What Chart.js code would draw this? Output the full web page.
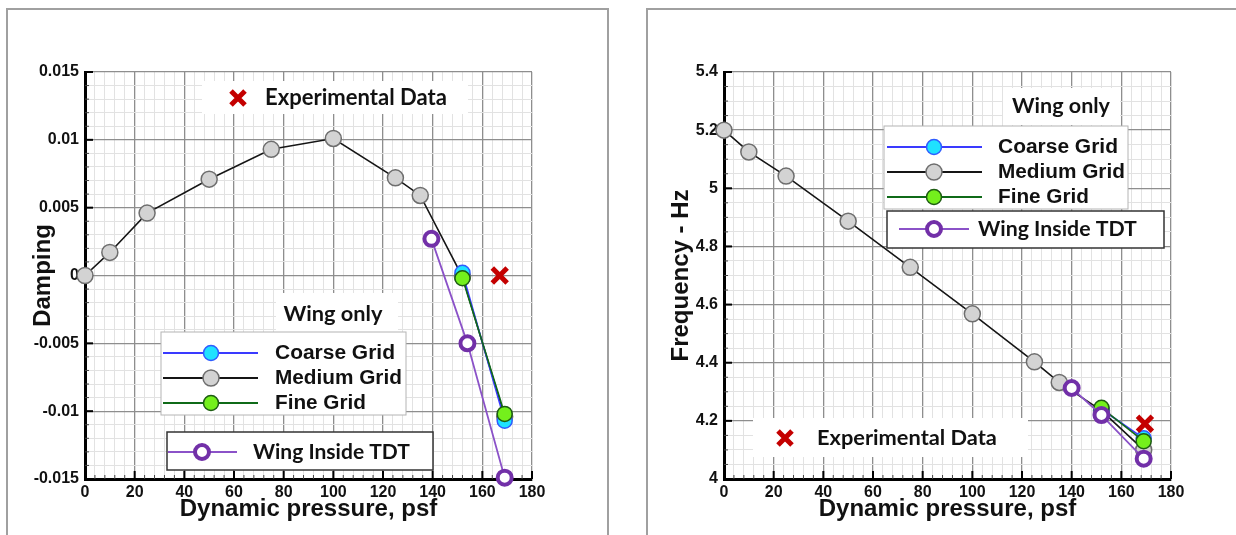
<!DOCTYPE html>
<html><head><meta charset="utf-8">
<script src="https://cdn.jsdelivr.net/npm/chart.js@4.4.1/dist/chart.umd.min.js"></script>
<style>
html,body{margin:0;padding:0;background:#fff;width:1236px;height:535px;overflow:hidden;}
.panel{position:absolute;border:2px solid #a0a0a0;box-sizing:border-box;}
canvas{position:absolute;top:0;}
</style></head><body>
<div class="panel" style="left:6px;top:8px;width:603px;height:620px"></div>
<div class="panel" style="left:646px;top:8px;width:700px;height:620px"></div>
<canvas id="c1" width="620" height="535" style="left:0px"></canvas>
<canvas id="c2" width="616" height="535" style="left:620px"></canvas>
<script>
// ---------- data ----------
const pressureMedium = [0, 10, 25, 50, 75, 100, 125, 135, 152, 169];
const dampingMedium  = [0, 0.0017, 0.0046, 0.0071, 0.0093, 0.0101, 0.0072, 0.0059, -0.0001, -0.0104];
const freqMedium     = [5.2, 5.125, 5.042, 4.887, 4.728, 4.568, 4.403, 4.332, 4.235, 4.10];

const pressureGrid   = [152, 169];
const dampingCoarse  = [0.0002, -0.0107];
const dampingFine    = [-0.0002, -0.0102];
const freqCoarse     = [4.24, 4.14];
const freqFine       = [4.245, 4.13];

const pressureTdtDamping = [139.5, 154, 169];
const dampingTdt         = [0.0027, -0.005, -0.0149];
const pressureTdtFreq    = [140, 152, 169];
const freqTdt            = [4.313, 4.22, 4.07];

const pressureExpDamping = [167];
const dampingExp         = [0];
const pressureExpFreq    = [169.5];
const freqExp            = [4.19];

const pressureTickValues = [0, 20, 40, 60, 80, 100, 120, 140, 160, 180];
const pressureTickLabels = ['0', '20', '40', '60', '80', '100', '120', '140', '160', '180'];
const dampingTickValues  = [-0.015, -0.01, -0.005, 0, 0.005, 0.01, 0.015];
const dampingTickLabels  = ['-0.015', '-0.01', '-0.005', '0', '0.005', '0.01', '0.015'];
const freqTickValues     = [4, 4.2, 4.4, 4.6, 4.8, 5, 5.2, 5.4];
const freqTickLabels     = ['4', '4.2', '4.4', '4.6', '4.8', '5', '5.2', '5.4'];

const seriesNames = ['Coarse Grid', 'Medium Grid', 'Fine Grid', 'Wing Inside TDT', 'Experimental Data'];
const groupLabel = 'Wing only';

// ---------- styles ----------
const ST = {
  coarse: {line: '#3a3aff', fill: '#1fe2ff', edge: '#2f5cff', r: 7.5},
  medium: {line: '#151515', fill: '#d3d3d3', edge: '#6e6e6e', r: 8},
  fine:   {line: '#0f6a18', fill: '#74f01c', edge: '#1d5c12', r: 7.5},
  tdt:    {line: '#8b52c8', fill: '#ffffff', edge: '#7230a8', r: 7},
  exp:    {edge: '#c40000'}
};
const TICK_FONT = {family: 'Liberation Sans', weight: 'bold', size: 16};
const TITLE_FONT = {family: 'Liberation Sans', weight: 'bold', size: 24};

const pts = (xs, ys) => xs.map((x, i) => ({x: x, y: ys[i]}));
function majorLabel(value, values, labels) {
  const i = values.findIndex(v => Math.abs(v - value) < 1e-7);
  return i >= 0 ? labels[i] : '';
}

function lineSet(label, data, st, order) {
  return {label, data, showLine: true, borderColor: st.line, borderWidth: 1.6,
    pointBackgroundColor: st.fill, pointBorderColor: st.edge, pointBorderWidth: 1.5,
    pointRadius: st.r, pointHoverRadius: st.r, order, clip: false};
}
function tdtSet(label, data) {
  return {label, data, showLine: true, borderColor: ST.tdt.line, borderWidth: 1.8,
    pointBackgroundColor: ST.tdt.fill, pointBorderColor: ST.tdt.edge, pointBorderWidth: 4,
    pointRadius: ST.tdt.r, pointHoverRadius: ST.tdt.r, order: 1, clip: false};
}
function expSet(label, data) {
  return {label, data, showLine: false, pointStyle: 'crossRot', pointRadius: 10.5,
    pointBorderWidth: 5, pointBorderColor: ST.exp.edge, pointBackgroundColor: ST.exp.edge,
    order: 0, clip: false};
}

function gridOpts(values, labels) {
  return {
    drawTicks: false,
    color: c => (c.tick && majorLabel(c.tick.value, values, labels) !== '') ? '#8e8e8e' : '#e2e2e2',
    lineWidth: c => (c.tick && majorLabel(c.tick.value, values, labels) !== '') ? 1.3 : 1
  };
}

function xScale() {
  return {
    type: 'linear', min: 0, max: 180,
    afterFit: s => { s.height = 56; },
    ticks: {stepSize: 4, autoSkip: false, maxRotation: 0, minRotation: 0, padding: 4, color: '#111', font: TICK_FONT,
      callback: v => majorLabel(v, pressureTickValues, pressureTickLabels)},
    grid: gridOpts(pressureTickValues, pressureTickLabels),
    border: {color: '#000', width: 3},
    title: {display: true, text: 'Dynamic pressure, psf', color: '#111', font: TITLE_FONT, padding: {top: 0, bottom: 11}}
  };
}
function yScale(min, max, step, values, labels, width, title, titlePad) {
  return {
    type: 'linear', min, max,
    afterFit: s => { s.width = width; },
    ticks: {stepSize: step, autoSkip: false, padding: 6, color: '#111', font: TICK_FONT,
      callback: v => majorLabel(v, values, labels)},
    grid: gridOpts(values, labels),
    border: {color: '#000', width: 3},
    title: {display: true, text: title, color: '#111', font: TITLE_FONT, padding: {top: titlePad, bottom: 0}}
  };
}

// inward tick marks, drawn from the library's scales
const inwardTicks = {
  id: 'inwardTicks',
  beforeDatasetsDraw(chart) {
    const {ctx, chartArea: a, scales: {x, y}} = chart;
    ctx.save();
    x.ticks.forEach(t => {
      const px = x.getPixelForValue(t.value);
      const major = t.label !== '';
      ctx.strokeStyle = major ? '#000' : '#444';
      ctx.lineWidth = major ? 2 : 1;
      ctx.beginPath(); ctx.moveTo(px, a.bottom); ctx.lineTo(px, a.bottom - (major ? 8 : 4)); ctx.stroke();
    });
    y.ticks.forEach(t => {
      const py = y.getPixelForValue(t.value);
      const major = t.label !== '';
      ctx.strokeStyle = major ? '#000' : '#444';
      ctx.lineWidth = major ? 2 : 1;
      ctx.beginPath(); ctx.moveTo(a.left, py); ctx.lineTo(a.left + (major ? 8 : 4), py); ctx.stroke();
    });
    ctx.restore();
  }
};

// ---------- legend drawing helpers ----------
function whiteBox(ctx, x, y, w, h) { ctx.fillStyle = '#fff'; ctx.fillRect(x, y, w, h); }
function framedBox(ctx, x, y, w, h, color, lw) {
  ctx.fillStyle = '#fff'; ctx.fillRect(x, y, w, h);
  ctx.strokeStyle = color; ctx.lineWidth = lw; ctx.strokeRect(x, y, w, h);
}
function fitText(ctx, text, x, y, width, family, weight, align) {
  ctx.font = weight + ' 100px "' + family + '"';
  const size = 100 * width / ctx.measureText(text).width;
  ctx.font = weight + ' ' + size.toFixed(2) + 'px "' + family + '"';
  ctx.textAlign = align; ctx.textBaseline = 'middle'; ctx.fillStyle = '#111';
  ctx.fillText(text, x, y);
}
function marker(ctx, x, y, r, fill, edge, lw) {
  ctx.beginPath(); ctx.arc(x, y, r, 0, Math.PI * 2);
  ctx.fillStyle = fill; ctx.fill();
  ctx.strokeStyle = edge; ctx.lineWidth = lw; ctx.stroke();
}
function cross(ctx, x, y, h, color) {
  ctx.strokeStyle = color; ctx.lineWidth = 5; ctx.lineCap = 'butt';
  ctx.beginPath(); ctx.moveTo(x - h, y - h); ctx.lineTo(x + h, y + h);
  ctx.moveTo(x + h, y - h); ctx.lineTo(x - h, y + h); ctx.stroke();
}
function legendRow(ctx, x1, x2, mx, y, st, text, tx, tw, isTdt) {
  ctx.strokeStyle = st.line; ctx.lineWidth = 2;
  ctx.beginPath(); ctx.moveTo(x1, y); ctx.lineTo(x2, y); ctx.stroke();
  if (isTdt) marker(ctx, mx, y, st.r, st.fill, st.edge, 4);
  else marker(ctx, mx, y, st.r, st.fill, st.edge, 1.5);
  if (isTdt) fitText(ctx, text, tx, y, tw, 'Lato', 'bold', 'left');
  else fitText(ctx, text, tx, y, tw, 'Liberation Sans', 'bold', 'left');
}

function overlayPlugin(draw) {
  return {id: 'overlay', afterDraw(chart) { const ctx = chart.ctx; ctx.save(); draw(ctx); ctx.restore(); }};
}

const leftOverlay = overlayPlugin(ctx => {
  whiteBox(ctx, 202, 81, 266, 33);
  cross(ctx, 238, 98, 7, ST.exp.edge);
  fitText(ctx, seriesNames[4], 265, 98, 182, 'Lato', 'bold', 'left');
  whiteBox(ctx, 276, 293, 122, 40);
  fitText(ctx, groupLabel, 333, 314, 99, 'Lato', 'bold', 'center');
  framedBox(ctx, 161, 332, 245, 83, '#b4b4b4', 1);
  legendRow(ctx, 163, 258, 211, 353, ST.coarse, seriesNames[0], 275, 120);
  legendRow(ctx, 163, 258, 211, 378, ST.medium, seriesNames[1], 275, 127);
  legendRow(ctx, 163, 258, 211, 403, ST.fine, seriesNames[2], 275, 91);
  framedBox(ctx, 167, 432, 266, 38, '#333', 1.5);
  legendRow(ctx, 168, 237, 202, 452, ST.tdt, seriesNames[3], 253, 157, true);
});
const rightOverlay = overlayPlugin(ctx => {
  whiteBox(ctx, 383, 88, 117, 37);
  fitText(ctx, groupLabel, 441, 106, 98, 'Lato', 'bold', 'center');
  framedBox(ctx, 264, 126, 244, 83, '#b4b4b4', 1);
  legendRow(ctx, 267, 362, 314, 147, ST.coarse, seriesNames[0], 378, 120);
  legendRow(ctx, 267, 362, 314, 172, ST.medium, seriesNames[1], 378, 127);
  legendRow(ctx, 267, 362, 314, 197, ST.fine, seriesNames[2], 378, 91);
  framedBox(ctx, 267, 211, 277, 37, '#333', 1.5);
  legendRow(ctx, 279, 349, 314, 229, ST.tdt, seriesNames[3], 358, 159, true);
  whiteBox(ctx, 133, 418, 275, 39);
  cross(ctx, 165, 438, 7, ST.exp.edge);
  fitText(ctx, seriesNames[4], 197, 438, 180, 'Lato', 'bold', 'left');
});

const common = {
  responsive: false, animation: false, devicePixelRatio: 1,
  plugins: {legend: {display: false}, tooltip: {enabled: false}}
};

new Chart(document.getElementById('c1'), {
  type: 'scatter',
  data: {datasets: [
    expSet(seriesNames[4], pts(pressureExpDamping, dampingExp)),
    tdtSet(seriesNames[3], pts(pressureTdtDamping, dampingTdt)),
    lineSet(seriesNames[2], pts(pressureGrid, dampingFine), ST.fine, 2),
    lineSet(seriesNames[0], pts(pressureGrid, dampingCoarse), ST.coarse, 3),
    lineSet(seriesNames[1], pts(pressureMedium, dampingMedium), ST.medium, 4)
  ]},
  options: Object.assign({}, common, {
    layout: {padding: {left: 0, top: 72, right: 88, bottom: 0}},
    scales: {
      x: xScale(),
      y: yScale(-0.015, 0.015, 0.001, dampingTickValues, dampingTickLabels, 85, 'Damping', 29)
    }
  }),
  plugins: [inwardTicks, leftOverlay]
});

new Chart(document.getElementById('c2'), {
  type: 'scatter',
  data: {datasets: [
    expSet(seriesNames[4], pts(pressureExpFreq, freqExp)),
    tdtSet(seriesNames[3], pts(pressureTdtFreq, freqTdt)),
    lineSet(seriesNames[2], pts(pressureGrid, freqFine), ST.fine, 2),
    lineSet(seriesNames[0], pts(pressureGrid, freqCoarse), ST.coarse, 3),
    lineSet(seriesNames[1], pts(pressureMedium, freqMedium), ST.medium, 4)
  ]},
  options: Object.assign({}, common, {
    layout: {padding: {left: 0, top: 72, right: 65, bottom: 0}},
    scales: {
      x: xScale(),
      y: yScale(4, 5.4, 0.05, freqTickValues, freqTickLabels, 104, 'Frequency - Hz', 47)
    }
  }),
  plugins: [inwardTicks, rightOverlay]
});
</script>
</body></html>
